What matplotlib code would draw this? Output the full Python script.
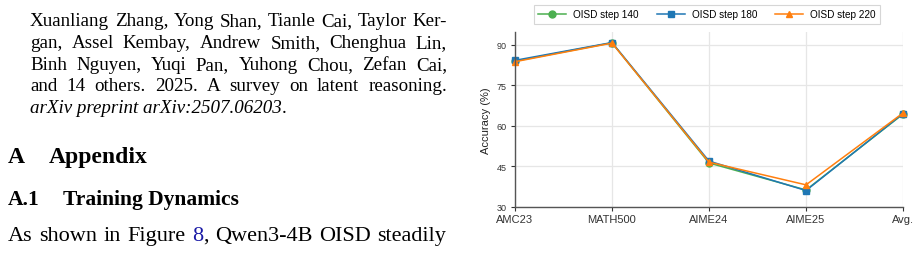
import matplotlib
matplotlib.use("Agg")
import matplotlib.pyplot as plt

# chart data
benchmarks = ["AMC23", "MATH500", "AIME24", "AIME25", "Avg."]
step140 = [84.0, 90.8, 46.3, 36.3, 64.4]
step180 = [84.3, 90.9, 47.0, 36.1, 64.6]
step220 = [83.8, 90.7, 46.6, 38.2, 64.8]
series_names = ["OISD step 140", "OISD step 180", "OISD step 220"]
yticks = [30, 45, 60, 75, 90]

# page text on the left
ref_lines = [
    "Xuanliang Zhang, Yong Shan, Tianle Cai, Taylor Ker-",
    "gan, Assel Kembay, Andrew Smith, Chenghua Lin,",
    "Binh Nguyen, Yuqi Pan, Yuhong Chou, Zefan Cai,",
    "and 14 others. 2025.  A survey on latent reasoning.",
]
ref_last = "arXiv preprint arXiv:2507.06203"
body_line = "As shown in Figure 8, Qwen3-4B OISD steadily"

W, H = 919, 255
fig = plt.figure(figsize=(W / 100, H / 100), dpi=100)
renderer = fig.canvas.get_renderer()
serif = "Liberation Serif"


def fy(y):
    return 1 - y / H


def px_width(t):
    return t.get_window_extent(renderer=renderer).width


def measure(s, size, **kw):
    t = fig.text(0, 0, s, fontsize=size, family=serif, **kw)
    w = px_width(t)
    t.remove()
    return w


def justify(words, x0, x1, y, size):
    # words: list of lists of (text, color)
    widths = [sum(measure(p, size) for p, c in w) for w in words]
    gap = (x1 - x0 - sum(widths)) / (len(words) - 1)
    x = x0
    for w, wd in zip(words, widths):
        xx = x
        for piece, col in w:
            t = fig.text(xx / W, fy(y), piece, fontsize=size, family=serif,
                         color=col, va="baseline")
            xx += px_width(t)
        x += wd + gap


# fit sizes so the tightest lines fill the column
ref_size = 10 * 412 / measure(ref_lines[0], 10)
body_size = 10 * 432 / measure(body_line, 10)
sec_size = 10 * 99 / measure("Appendix", 10, weight="bold")
sub_size = 10 * 176 / measure("Training Dynamics", 10, weight="bold")

for i, line in enumerate(ref_lines):
    words = [[(w, "black")] for w in line.split()]
    justify(words, 30, 447, 26.5 + 21.6 * i, ref_size)

t = fig.text(30 / W, fy(113), ref_last, fontsize=ref_size, family=serif,
             style="italic", va="baseline")
fig.text((30 + px_width(t)) / W, fy(113), ".", fontsize=ref_size, family=serif,
         va="baseline")

fig.text(8 / W, fy(163), "A", fontsize=sec_size, family=serif, weight="bold", va="baseline")
fig.text(49 / W, fy(163), "Appendix", fontsize=sec_size, family=serif, weight="bold", va="baseline")
fig.text(8 / W, fy(205), "A.1", fontsize=sub_size, family=serif, weight="bold", va="baseline")
fig.text(63 / W, fy(205), "Training Dynamics", fontsize=sub_size, family=serif, weight="bold", va="baseline")

words = []
for w in body_line.split():
    if w == "8,":
        words.append([("8", "#1a1aa6"), (",", "black")])
    else:
        words.append([(w, "black")])
justify(words, 8, 446, 241, body_size)

# chart
ax = fig.add_axes([515 / W, 1 - 208 / H, (903 - 515) / W, (208 - 33) / H])
x = list(range(len(benchmarks)))
ax.plot(x, step140, color="#4caf50", marker="o", markersize=5, lw=1.1, label=series_names[0])
ax.plot(x, step180, color="#1f77b4", marker="s", markersize=5, lw=1.1, label=series_names[1])
ax.plot(x, step220, color="#ff7f0e", marker="^", markersize=5, lw=1.1, label=series_names[2])

ax.set_ylim(30, 94.8)
ax.set_xlim(0, len(benchmarks) - 1)
ax.set_yticks(yticks)
ax.set_xticks(x)
ax.set_xticklabels(benchmarks, family="Liberation Sans", fontsize=8)
for lab in ax.get_yticklabels():
    lab.set_family("Liberation Sans")
    lab.set_fontsize(6.5)
ax.tick_params(axis="y", length=3, width=0.8, colors="#333333", pad=3)
ax.tick_params(axis="x", length=3, width=0.8, colors="#333333", pad=2)
ax.set_ylabel("Accuracy (%)", family="Liberation Sans", fontsize=8, color="#222222", labelpad=4)
ax.grid(True, color="#e6e6e6", lw=0.9)
ax.set_axisbelow(True)
for s in ["top", "right"]:
    ax.spines[s].set_visible(False)
for s in ["left", "bottom"]:
    ax.spines[s].set_color("#555555")
    ax.spines[s].set_linewidth(1.0)
for ln in ax.lines:
    ln.set_clip_on(False)

leg = fig.legend(loc="center", bbox_to_anchor=(707 / W, fy(15)), ncol=3,
                 prop={"family": "Liberation Sans", "size": 7.2},
                 frameon=True, fancybox=False, edgecolor="#cccccc",
                 handlelength=2.8, columnspacing=1.8, borderpad=0.45,
                 handletextpad=0.7)
leg.get_frame().set_linewidth(0.8)

fig.savefig("out.png", dpi=100)
